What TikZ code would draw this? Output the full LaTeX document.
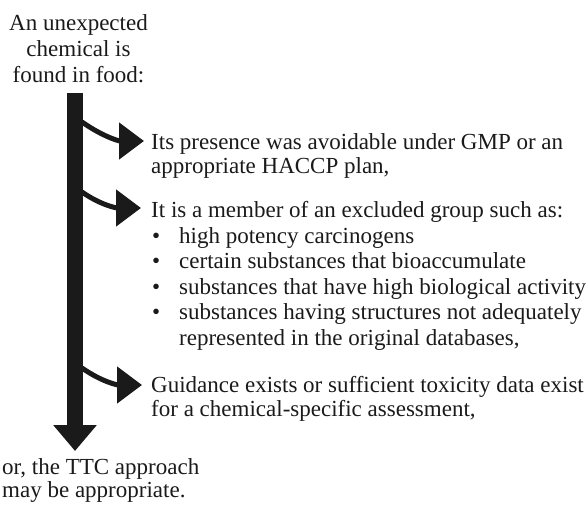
\documentclass[tikz,border=0pt]{standalone}
\usepackage{fontspec}
\setmainfont{Liberation Serif}
\usetikzlibrary{arrows.meta}
\definecolor{ink}{HTML}{1A1A1A}
\begin{document}
\begin{tikzpicture}[x=1pt,y=-1pt,
  txt/.style={inner sep=0pt,anchor=base west,font=\fontsize{23}{25}\selectfont,text=ink},
  ctxt/.style={txt,anchor=base},
  bullet/.style={txt},
  mainbar/.style={ink,line width=16pt,-{Triangle[width=42pt,length=26pt]}},
  branch/.style={ink,line width=5pt,-{Triangle[width=36pt,length=25pt]}}]
\useasboundingbox (0,0) rectangle (587,504);
% top text
\node[ctxt] (t1) at (78.5,30) {An unexpected};
\node[ctxt] (t2) at (78.5,56) {chemical is};
\node[ctxt] (t3) at (78.5,82) {found in food:};
% main arrow
\coordinate (bartop) at (75,93);
\coordinate (barend) at (75,451);
\draw[mainbar] (bartop) -- (barend);
% group 1
\node[txt] (a1) at (151,149) {Its presence was avoidable under GMP or an};
\node[txt] (a2) at (151,173.5) {appropriate HACCP plan,};
% group 2
\node[txt] (b1) at (151,217) {It is a member of an excluded group such as:};
\node[bullet] (bb1) at (152,243) {•};
\node[txt] (b2) at (179,243) {high potency carcinogens};
\node[bullet] (bb2) at (152,268.5) {•};
\node[txt] (b3) at (179,268.5) {certain substances that bioaccumulate};
\node[bullet] (bb3) at (152,294) {•};
\node[txt] (b4) at (179,294) {substances that have high biological activity};
\node[bullet] (bb4) at (152,319.5) {•};
\node[txt] (b5) at (179,319.5) {substances having structures not adequately};
\node[txt] (b6) at (179,345) {represented in the original databases,};
% group 3
\node[txt] (c1) at (151,392) {Guidance exists or sufficient toxicity data exist};
\node[txt] (c2) at (151,416) {for a chemical-specific assessment,};
% bottom text
\node[txt] (d1) at (2,474) {or, the TTC approach};
\node[txt] (d2) at (2,497.5) {may be appropriate.};
% branches
\coordinate (s1) at (82,122);
\coordinate (e1) at (144,141);
\coordinate (s2) at (82,192);
\coordinate (e2) at (141,208);
\coordinate (s3) at (82,368);
\coordinate (e3) at (142,385);
\draw[branch] (s1) to[out=-35,in=180] (e1);
\draw[branch] (s2) to[out=-35,in=180] (e2);
\draw[branch] (s3) to[out=-35,in=180] (e3);
\end{tikzpicture}
\end{document}
